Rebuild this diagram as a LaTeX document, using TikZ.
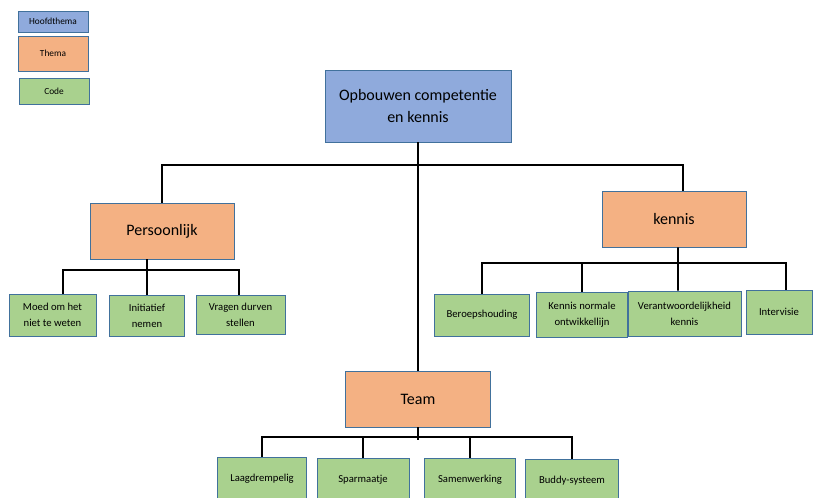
\documentclass[tikz,border=0pt]{standalone}
\usepackage{fontspec}
\setmainfont{Carlito}
\usepackage{tikz}
\usetikzlibrary{positioning}
\definecolor{hoofdblue}{HTML}{8FAADC}
\definecolor{themaorange}{HTML}{F4B183}
\definecolor{codegreen}{HTML}{A9D18E}
\definecolor{rimblue}{HTML}{41719C}
\tikzstyle{hoofd} = [draw=rimblue, fill=hoofdblue, align=center, inner sep=2pt, font=\fontsize{12}{17}\selectfont]
\tikzstyle{thema} = [draw=rimblue, fill=themaorange, align=center, inner sep=2pt, font=\fontsize{12}{14}\selectfont]
\tikzstyle{code} = [draw=rimblue, fill=codegreen, align=center, inner sep=2pt, font=\fontsize{8}{12}\selectfont]
\tikzstyle{legend} = [draw=rimblue, align=center, inner sep=1pt, minimum width=52.5pt, font=\fontsize{7}{8}\selectfont]
\tikzstyle{link} = [line width=1.4pt, black]

\begin{document}
\begin{tikzpicture}[x=0.75pt, y=-0.75pt]
    \useasboundingbox (0,0) rectangle (814,498);
    % legenda
    \node[legend, fill=hoofdblue, minimum height=15.75pt] (lhoofd) at (53,21.5) {Hoofdthema};
    \node[legend, fill=themaorange, minimum height=26.25pt] (lthema) at (53,53.5) {Thema};
    \node[legend, fill=codegreen, minimum height=19.5pt] (lcode) at (54,91) {Code};

    \node[hoofd, minimum width=139.5pt, minimum height=54pt] (main) at (418,106) {Opbouwen competentie\\en kennis};

    \node[thema, minimum width=108pt, minimum height=42pt] (pers) at (162,231) {Persoonlijk};
    \node[thema, minimum width=108pt, minimum height=42pt] (kennis) at (674,219) {kennis};
    \node[thema, minimum width=108.75pt, minimum height=42pt] (team) at (418,399) {Team};

    \node[code, minimum width=65.25pt, minimum height=31.5pt] (moed) at (52.5,315) {Moed om het\\niet te weten};
    \node[code, minimum width=56.25pt, minimum height=30.75pt] (init) at (147,315.5) {Initiatief\\nemen};
    \node[code, minimum width=66.75pt, minimum height=29.25pt] (vragen) at (240.5,314.5) {Vragen durven\\stellen};

    \node[code, minimum width=71.25pt, minimum height=31.5pt] (beroeps) at (482,315) {Beroepshouding};
    \node[code, minimum width=68.25pt, minimum height=33.75pt] (normaal) at (582,314.5) {Kennis normale\\ontwikkellijn};
    \node[code, minimum width=84.75pt, minimum height=33.75pt] (verantw) at (684.5,313.5) {Verantwoordelijkheid\\kennis};
    \node[code, minimum width=49.5pt, minimum height=33pt] (intervisie) at (779,312) {Intervisie};

    \node[code, minimum width=66.75pt, minimum height=33pt] (laag) at (262,479) {Laagdrempelig};
    \node[code, minimum width=69pt, minimum height=33pt] (spar) at (363,480) {Sparmaatje};
    \node[code, minimum width=68.25pt, minimum height=33pt] (samen) at (470,480) {Samenwerking};
    \node[code, minimum width=69.75pt, minimum height=33pt] (buddy) at (572,481) {Buddy-systeem};

    % verbindingen
    \coordinate (topbus) at (418,165);
    \coordinate (persbus) at (147,270);
    \coordinate (kennisbus) at (678,263);
    \coordinate (teambus) at (418,437);
    \draw[link] (main.south) -- (team.north);
    \draw[link] (pers.north) |- (topbus) -| ([xshift=6.75pt]kennis.north);

    \draw[link] ([xshift=-11.25pt]pers.south) -- (init.north);
    \draw[link] ([xshift=7.9pt]moed.north) |- (persbus) -| ([xshift=-1.1pt]vragen.north);

    \draw[link] ([xshift=3pt]kennis.south) -- ([xshift=-4.9pt]verantw.north);
    \draw[link] (beroeps.north) |- (kennisbus) -| ([xshift=5.25pt]intervisie.north);
    \draw[link] (normaal.north) -- (normaal.north |- kennisbus);

    \draw[link] (team.south) -- ([yshift=-2pt]teambus);
    \draw[link] (laag.north) |- (teambus) -| (buddy.north);
    \draw[link] (spar.north) -- (spar.north |- teambus);
    \draw[link] (samen.north) -- (samen.north |- teambus);
\end{tikzpicture}
\end{document}
